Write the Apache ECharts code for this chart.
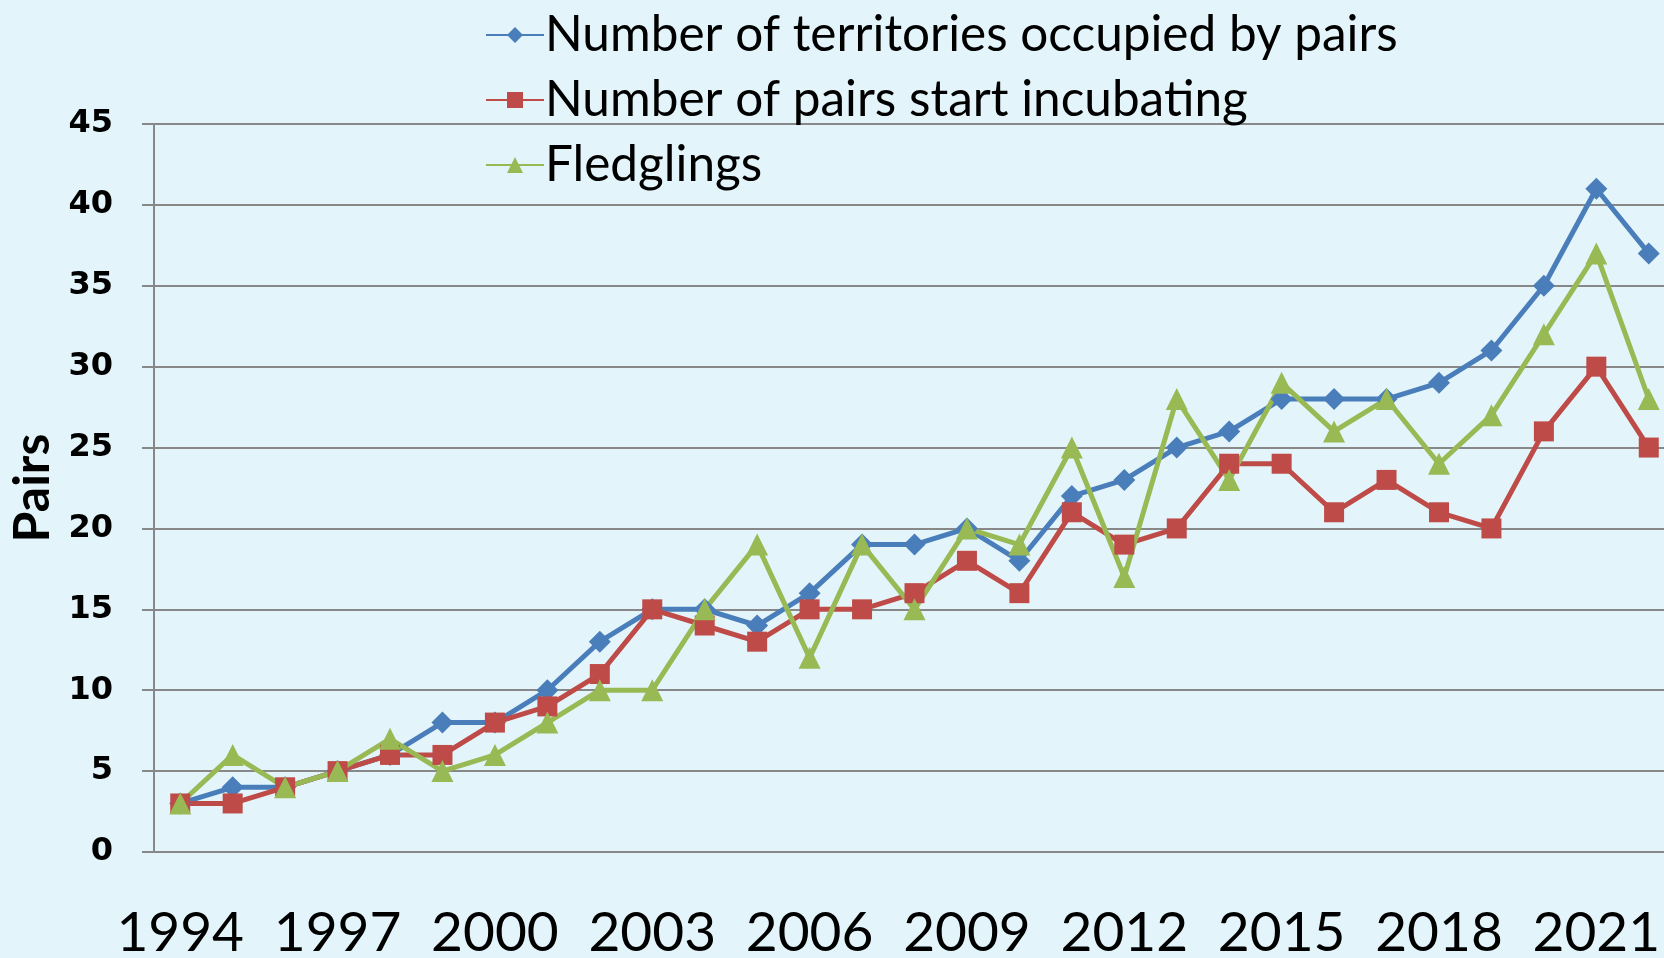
<!DOCTYPE html>
<html>
<head>
<meta charset="UTF-8">
<title>Pairs</title>
<style>
    html, body { margin: 0; padding: 0; background: #e3f5fa; }
    #chartArea { width: 1664px; height: 958px; }
</style>
</head>
<body>
<div id="chartArea"></div>
<script src="https://cdn.jsdelivr.net/npm/echarts@6/dist/echarts.min.js"></script>
<script>
var years = ['1994','1995','1996','1997','1998','1999','2000','2001','2002','2003',
             '2004','2005','2006','2007','2008','2009','2010','2011','2012','2013',
             '2014','2015','2016','2017','2018','2019','2020','2021','2022'];

var territories = [3,4,4,5,6,8,8,10,13,15,15,14,16,19,19,20,18,22,23,25,26,28,28,28,29,31,35,41,37];
var incubating  = [3,3,4,5,6,6,8,9,11,15,14,13,15,15,16,18,16,21,19,20,24,24,21,23,21,20,26,30,25];
var fledglings  = [3,6,4,5,7,5,6,8,10,10,15,19,12,19,15,20,19,25,17,28,23,29,26,28,24,27,32,37,28];

var seriesNames = ['Number of territories occupied by pairs', 'Number of pairs start incubating', 'Fledglings'];

var myChart = echarts.init(document.getElementById('chartArea'));

function line(name, data, color, symbol, size) {
    return {
        name: name,
        type: 'line',
        data: data,
        symbol: symbol,
        symbolSize: size,
        showAllSymbol: true,
        lineStyle: { color: color, width: 5 },
        itemStyle: { color: color },
        animation: false
    };
}

myChart.setOption({
    backgroundColor: '#e3f5fa',
    legend: {
        orient: 'vertical',
        left: 480,
        top: 5,
        itemWidth: 58,
        itemHeight: 20,
        itemGap: 15,
        textStyle: { fontFamily: 'Lato', fontSize: 49.5, color: '#000', padding: [0, 0, 0, -4] },
        data: seriesNames
    },
    grid: { left: 154, right: -11, top: 124, bottom: 106, outerBoundsMode: 'none', containLabel: false },
    xAxis: {
        type: 'category',
        data: years,
        boundaryGap: true,
        axisLine: { lineStyle: { color: '#888', width: 2 } },
        axisTick: { show: false },
        axisLabel: {
            interval: 2,
            margin: 54,
            fontFamily: 'Lato',
            fontSize: 55,
            color: '#000'
        }
    },
    yAxis: {
        type: 'value',
        min: 0,
        max: 45,
        interval: 5,
        name: 'Pairs',
        nameLocation: 'middle',
        nameGap: 96,
        nameTextStyle: { fontFamily: 'Lato', fontWeight: 'bold', fontSize: 50, color: '#000' },
        axisLine: { show: true, lineStyle: { color: '#888', width: 2 } },
        axisTick: { show: true, length: 12, lineStyle: { color: '#888', width: 2 } },
        splitLine: { lineStyle: { color: '#888', width: 2 } },
        axisLabel: {
            margin: 41,
            fontFamily: 'DejaVu Sans',
            fontWeight: 'bold',
            fontSize: 32,
            color: '#000'
        }
    },
    series: [
        line(seriesNames[0], territories, '#4a7ebb', 'diamond', 22),
        line(seriesNames[1], incubating, '#be4b48', 'rect', 20),
        line(seriesNames[2], fledglings, '#98b954', 'triangle', 22)
    ]
});
</script>
</body>
</html>
